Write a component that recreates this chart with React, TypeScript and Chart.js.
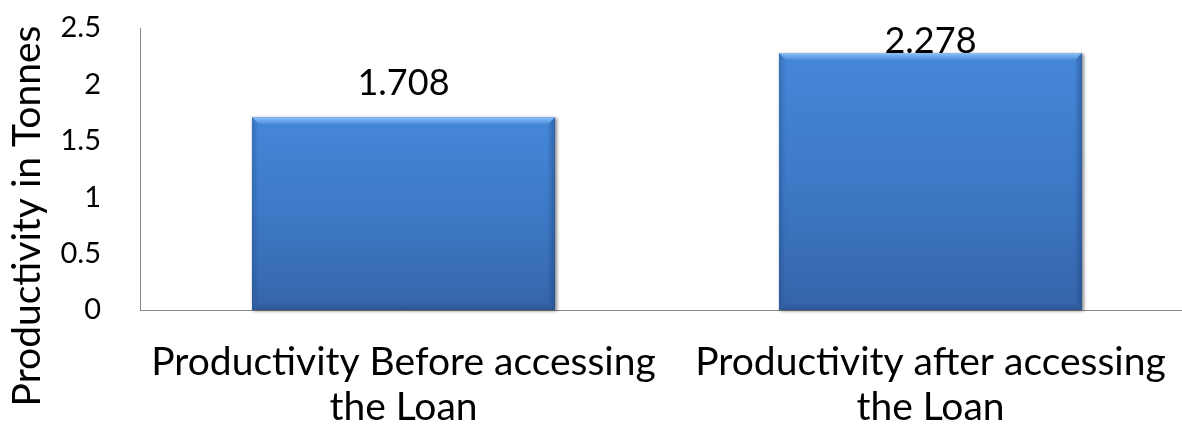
import React, { useEffect, useRef } from "react";
import { Chart, registerables } from "chart.js";

Chart.register(...registerables);

const categories: string[][] = [
  ["Productivity Before accessing", "the Loan"],
  ["Productivity after accessing", "the Loan"],
];
const values: number[] = [1.708, 2.278];
const valueLabels: string[] = ["1.708", "2.278"];
const yTicks: number[] = [0, 0.5, 1, 1.5, 2, 2.5];
const yTitle = "Productivity in Tonnes";

const FONT = "Lato, 'Open Sans', sans-serif";

export default function App() {
  const ref = useRef<HTMLCanvasElement>(null);

  useEffect(() => {
    const canvas = ref.current!;

    const barGradient = (chart: any, top: number, bottom: number) => {
      const g = chart.ctx.createLinearGradient(0, top, 0, bottom);
      g.addColorStop(0, "#4587d8");
      g.addColorStop(0.5, "#3d79c6");
      g.addColorStop(1, "#3565aa");
      return g;
    };

    const shadowPlugin = {
      id: "barShadow",
      beforeDatasetsDraw(chart: any) {
        const ctx = chart.ctx;
        const meta = chart.getDatasetMeta(0);
        ctx.save();
        meta.data.forEach((el: any) => {
          const { x, y, base, width } = el.getProps(["x", "y", "base", "width"], true);
          const l = x - width / 2;
          ctx.shadowColor = "rgba(0,0,0,0.45)";
          ctx.shadowBlur = 3;
          ctx.shadowOffsetX = 1.5;
          ctx.shadowOffsetY = 1;
          ctx.fillStyle = "#3d79c6";
          ctx.fillRect(l, y, width, base - y);
        });
        ctx.restore();
      },
    };

    const bevelPlugin = {
      id: "bevel",
      afterDatasetsDraw(chart: any) {
        const ctx = chart.ctx;
        const meta = chart.getDatasetMeta(0);
        const b = 7;
        ctx.save();
        meta.data.forEach((el: any) => {
          const { x, y, base, width } = el.getProps(["x", "y", "base", "width"], true);
          const l = x - width / 2;
          const r = x + width / 2;
          const t = y;
          const bt = base;
          const gt = ctx.createLinearGradient(0, t, 0, t + b);
          gt.addColorStop(0, "#8cc0f4");
          gt.addColorStop(0.5, "#6aa6ea");
          gt.addColorStop(1, "#4a8bd9");
          ctx.fillStyle = gt;
          ctx.beginPath();
          ctx.moveTo(l, t);
          ctx.lineTo(r, t);
          ctx.lineTo(r - b, t + b);
          ctx.lineTo(l + b, t + b);
          ctx.closePath();
          ctx.fill();
          const gr = ctx.createLinearGradient(r - b, 0, r, 0);
          gr.addColorStop(0, "rgba(25,60,115,0.05)");
          gr.addColorStop(1, "rgba(25,60,115,0.45)");
          ctx.fillStyle = gr;
          ctx.beginPath();
          ctx.moveTo(r, t);
          ctx.lineTo(r, bt);
          ctx.lineTo(r - b, bt - b);
          ctx.lineTo(r - b, t + b);
          ctx.closePath();
          ctx.fill();
          const gb = ctx.createLinearGradient(0, bt - b, 0, bt);
          gb.addColorStop(0, "rgba(25,60,115,0.05)");
          gb.addColorStop(1, "rgba(25,60,115,0.4)");
          ctx.fillStyle = gb;
          ctx.beginPath();
          ctx.moveTo(l, bt);
          ctx.lineTo(r, bt);
          ctx.lineTo(r - b, bt - b);
          ctx.lineTo(l + b, bt - b);
          ctx.closePath();
          ctx.fill();
          const gl = ctx.createLinearGradient(l, 0, l + b, 0);
          gl.addColorStop(0, "rgba(25,60,115,0.3)");
          gl.addColorStop(1, "rgba(25,60,115,0.0)");
          ctx.fillStyle = gl;
          ctx.beginPath();
          ctx.moveTo(l, t);
          ctx.lineTo(l + b, t + b);
          ctx.lineTo(l + b, bt - b);
          ctx.lineTo(l, bt);
          ctx.closePath();
          ctx.fill();
        });
        ctx.restore();
      },
    };

    const labelPlugin = {
      id: "valueLabels",
      afterDatasetsDraw(chart: any) {
        const ctx = chart.ctx;
        const meta = chart.getDatasetMeta(0);
        const size = 36;
        const capH = size * 0.72;
        ctx.save();
        ctx.font = `${size}px ${FONT}`;
        ctx.fillStyle = "#000";
        ctx.textAlign = "center";
        ctx.textBaseline = "alphabetic";
        meta.data.forEach((el: any, i: number) => {
          const { x, y } = el.getProps(["x", "y"], true);
          const baseY = Math.max(y - 22, chart.chartArea.top - 1 + capH);
          ctx.fillText(valueLabels[i], x, baseY);
        });
        ctx.restore();
      },
    };

    const titlePlugin = {
      id: "yTitle",
      afterDraw(chart: any) {
        const ctx = chart.ctx;
        ctx.save();
        ctx.font = `39px ${FONT}`;
        ctx.fillStyle = "#000";
        ctx.textAlign = "center";
        ctx.textBaseline = "middle";
        ctx.translate(27, chart.height / 2);
        ctx.rotate(-Math.PI / 2);
        ctx.fillText(yTitle, 0, 0);
        ctx.restore();
      },
    };

    const chart = new Chart(canvas, {
      type: "bar",
      data: {
        labels: categories,
        datasets: [
          {
            data: values,
            backgroundColor: (c: any) => {
              const ch = c.chart;
              const ys = ch.scales && ch.scales.y;
              if (!ch.chartArea || !ys || c.raw == null) return "#3d79c6";
              const top = ys.getPixelForValue(c.raw);
              const bottom = ys.getPixelForValue(0);
              return barGradient(ch, top, bottom);
            },
            borderWidth: 0,
            barPercentage: 0.575,
            categoryPercentage: 1,
          },
        ],
      },
      options: {
        responsive: false,
        devicePixelRatio: 1,
        animation: false,
        layout: { padding: { top: 28, left: 0, right: 0, bottom: 0 } },
        plugins: {
          legend: { display: false },
          tooltip: { enabled: false },
        },
        scales: {
          x: {
            type: "category",
            offset: true,
            grid: { display: false, drawTicks: false },
            border: { display: true, color: "#868686", width: 1 },
            ticks: {
              color: "#000",
              font: { family: FONT, size: 39, lineHeight: 45 / 39 },
              padding: 30,
              maxRotation: 0,
              minRotation: 0,
              autoSkip: false,
            },
            afterFit: (s: any) => {
              s.height = 122;
              s.paddingLeft = 0;
              s.paddingRight = 0;
            },
          },
          y: {
            min: yTicks[0],
            max: yTicks[yTicks.length - 1],
            grid: { display: false, drawTicks: false },
            border: { display: true, color: "#868686", width: 1 },
            ticks: {
              stepSize: 0.5,
              color: "#000",
              font: { family: FONT, size: 29 },
              padding: 39,
              callback: (v: any) => String(v),
            },
            afterBuildTicks: (s: any) => {
              s.ticks = yTicks.map((v) => ({ value: v }));
            },
            afterFit: (s: any) => {
              s.width = 140;
              s.paddingTop = 0;
              s.paddingBottom = 0;
            },
          },
        },
      },
      plugins: [shadowPlugin, bevelPlugin, labelPlugin, titlePlugin],
    });

    return () => chart.destroy();
  }, []);

  return (
    <div
      style={{
        position: "absolute",
        left: 0,
        top: 0,
        width: 1182,
        height: 432,
        overflow: "hidden",
        background: "#fff",
      }}
    >
      <canvas
        ref={ref}
        width={1194}
        height={432}
        style={{ display: "block", width: 1194, height: 432 }}
      />
    </div>
  );
}
